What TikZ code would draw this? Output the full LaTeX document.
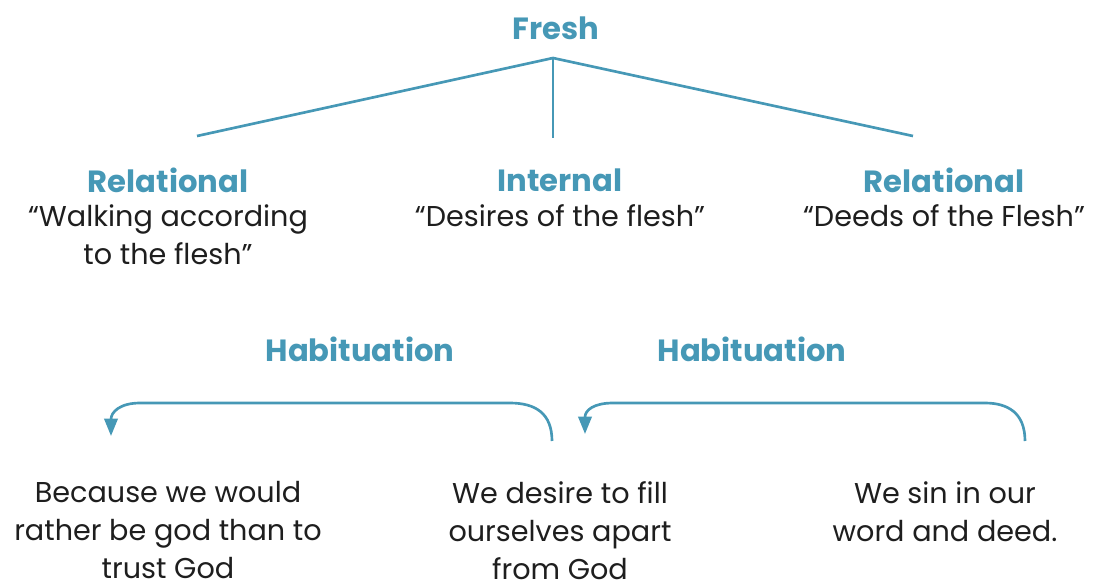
\documentclass[tikz,border=0pt]{standalone}
\usepackage{fontspec}
\setmainfont{Poppins}
\usetikzlibrary{arrows.meta}
\definecolor{teal1}{RGB}{70,152,182}
\definecolor{txt}{RGB}{30,30,30}
\tikzset{
  head/.style={text=teal1, font=\fontsize{23}{27}\selectfont\bfseries, inner sep=0pt, anchor=center},
  body/.style={text=txt, font=\fontsize{21.5}{28.5}\selectfont, align=center, inner sep=0pt, anchor=north},
  conn/.style={draw=teal1, line width=2pt},
  arr/.style={draw=teal1, line width=2pt, -{Triangle[length=13pt,width=10pt]}}
}
\begin{document}
\begin{tikzpicture}[x=0.75pt,y=-0.75pt]
\path[use as bounding box] (0,0) rectangle (1097,583);
\node[head] (fresh) at (556,28) {Fresh};
\coordinate (apex) at (553,58);
\coordinate (lend) at (197,136);
\coordinate (mend) at (553,138);
\coordinate (rend) at (913,136);
\draw[conn] (lend) -- (apex) -- (rend);
\draw[conn] (apex) -- (mend);

\node[head] (rel1) at (168,180) {Relational};
\node[head] (int) at (560,180) {Internal};
\node[head] (rel2) at (944,180) {Relational};
\node[body] (rel1t) at (168,204) {“Walking according\\to the flesh”};
\node[body] (intt) at (560,204) {“Desires of the flesh”};
\node[body] (rel2t) at (944,204) {“Deeds of the Flesh”};

\node[head] (hab1) at (360,349) {Habituation};
\node[head] (hab2) at (752,349) {Habituation};

\coordinate (s1) at (552,441);
\coordinate (t1) at (111,436);
\coordinate (s2) at (1025,441);
\coordinate (t2) at (585,434);
\draw[arr] (s1) .. controls (552,413) and (535,403) .. (510,403) -- (140,403) .. controls (120,403) and (111,412) .. (t1);
\draw[arr] (s2) .. controls (1025,413) and (1008,403) .. (985,403) -- (613,403) .. controls (594,403) and (585,410) .. (t2);

\node[body] (b1) at (168,481) {Because we would\\rather be god than to\\trust God};
\node[body] (b2) at (560,481) {We desire to fill\\ourselves apart\\from God};
\node[body] (b3) at (945,481) {We sin in our\\word and deed.};
\end{tikzpicture}
\end{document}
